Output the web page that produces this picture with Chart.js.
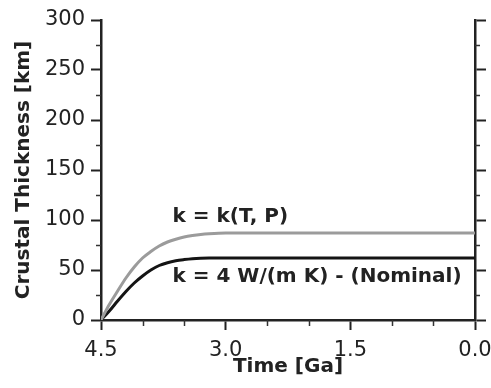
<!DOCTYPE html>
<html><head><meta charset="utf-8">
<script src="https://cdn.jsdelivr.net/npm/chart.js@4/dist/chart.umd.min.js"></script>
<style>html,body{margin:0;padding:0;background:#fff}canvas{display:block}</style>
</head>
<body><canvas id="c" width="491" height="388"></canvas>
<script>
// Time before present (Ga)
const timeGa = [4.5, 4.4, 4.3, 4.2, 4.1, 4.0, 3.9, 3.8, 3.7, 3.6, 3.5, 3.4, 3.3, 3.2, 3.0, 2.5, 2.0, 1.5, 1.0, 0.5, 0.0];
// Crustal thickness (km), k = k(T, P)
const thickVariableK = [0, 15.5, 29, 42, 53, 62, 68.5, 74, 78, 80.8, 83, 84.5, 85.6, 86.3, 87, 87, 87, 87, 87, 87, 87];
// Crustal thickness (km), k = 4 W/(m K) nominal
const thickNominalK = [0, 9, 19, 28.5, 37, 44, 50, 54.5, 57.3, 59.2, 60.4, 61.3, 61.8, 62, 62, 62, 62, 62, 62, 62, 62];
const xMajorTicks = [4.5, 3.0, 1.5, 0.0];
const xMinorTicks = [4.0, 3.5, 2.5, 2.0, 1.0, 0.5];
const yMinorTicks = [25, 75, 125, 175, 225, 275];
const seriesLabels = ['k = k(T, P)', 'k = 4 W/(m K) - (Nominal)'];
const labelAnchors = [[3.64, 98], [3.64, 38.5]]; // [time Ga, km] for text baseline-left

const ink = '#222';
const tickFont = {family: '"DejaVu Sans", sans-serif', size: 21, weight: 'normal'};
const titleFont = {family: '"DejaVu Sans", sans-serif', size: 20, weight: 'bold'};

const annot = {
  id: 'annot',
  afterDatasetsDraw(chart) {
    const {ctx, scales: {x, y}} = chart;
    ctx.save();
    ctx.strokeStyle = '#333';
    ctx.lineWidth = 1.5;
    const left = chart.chartArea.left, right = chart.chartArea.right, bottom = chart.chartArea.bottom;
    yMinorTicks.forEach(v => {
      const py = Math.round(y.getPixelForValue(v)) + 0.5;
      ctx.beginPath(); ctx.moveTo(left - 5, py); ctx.lineTo(left, py); ctx.stroke();
      ctx.beginPath(); ctx.moveTo(right, py); ctx.lineTo(right + 5, py); ctx.stroke();
    });
    xMinorTicks.forEach(v => {
      const px = Math.round(x.getPixelForValue(v)) + 0.5;
      ctx.beginPath(); ctx.moveTo(px, bottom); ctx.lineTo(px, bottom + 6); ctx.stroke();
    });
    ctx.fillStyle = ink;
    ctx.font = 'bold 20px "DejaVu Sans", sans-serif';
    ctx.textAlign = 'left';
    ctx.textBaseline = 'alphabetic';
    seriesLabels.forEach((t, i) => {
      ctx.fillText(t, x.getPixelForValue(labelAnchors[i][0]), y.getPixelForValue(labelAnchors[i][1]));
    });
    ctx.restore();
  }
};

new Chart(document.getElementById('c'), {
  type: 'line',
  data: {
    datasets: [
      {label: seriesLabels[0], data: timeGa.map((t, i) => ({x: t, y: thickVariableK[i]})),
       borderColor: '#9b9b9b', borderWidth: 3, pointRadius: 0, cubicInterpolationMode: 'monotone', fill: false},
      {label: seriesLabels[1], data: timeGa.map((t, i) => ({x: t, y: thickNominalK[i]})),
       borderColor: '#141414', borderWidth: 3, pointRadius: 0, cubicInterpolationMode: 'monotone', fill: false}
    ]
  },
  options: {
    responsive: false, animation: false, devicePixelRatio: 1,
    layout: {padding: {top: 20, left: 0, right: 0, bottom: 0}},
    plugins: {legend: {display: false}, tooltip: {enabled: false}},
    scales: {
      x: {
        type: 'linear', reverse: true, min: 0, max: 4.5, position: 'bottom',
        afterBuildTicks: s => { s.ticks = xMajorTicks.map(v => ({value: v})); },
        ticks: {callback: v => Number(v).toFixed(1), font: tickFont, color: ink, padding: 8, maxRotation: 0, autoSkip: false},
        grid: {drawOnChartArea: false, tickLength: 10, tickWidth: 2, tickColor: ink},
        border: {color: ink, width: 2.5},
        title: {display: true, text: 'Time [Ga]', font: titleFont, color: ink, padding: {top: 0, bottom: 9}},
        afterFit: s => { s.height = 68; s.paddingLeft = 0; s.paddingRight = 0; }
      },
      y: {
        type: 'linear', min: 0, max: 300, position: 'left',
        ticks: {stepSize: 50, font: tickFont, color: ink, padding: 6},
        grid: {drawOnChartArea: false, tickLength: 10, tickWidth: 2, tickColor: ink},
        border: {color: ink, width: 2.5},
        title: {display: true, text: 'Crustal Thickness [km]', font: titleFont, color: ink, padding: {top: 12, bottom: 0}},
        afterFit: s => { s.width = 101; s.paddingTop = 0; s.paddingBottom = 0; }
      },
      y2: {
        type: 'linear', min: 0, max: 300, position: 'right',
        ticks: {stepSize: 50, display: false},
        grid: {drawOnChartArea: false, tickLength: 11, tickWidth: 2, tickColor: ink},
        border: {color: ink, width: 2.5},
        afterFit: s => { s.width = 16; s.paddingTop = 0; s.paddingBottom = 0; }
      }
    }
  },
  plugins: [annot]
});
</script>
</body></html>
